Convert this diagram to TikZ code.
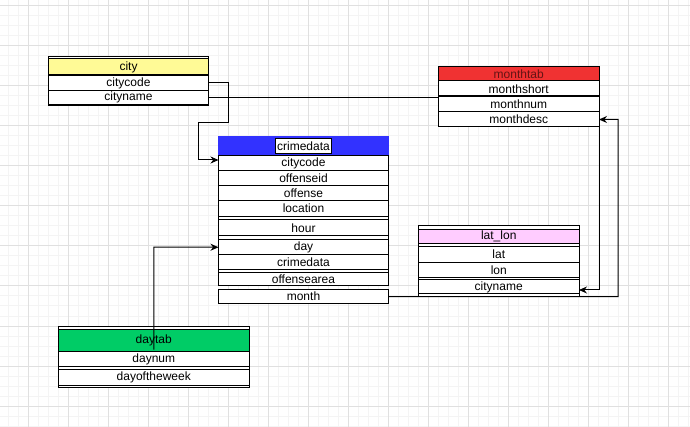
\documentclass[tikz,border=0pt]{standalone}
\usepackage{fontspec}
\setmainfont{Liberation Sans}
\usetikzlibrary{arrows.meta,calc}
\newcommand\fsz{\fontsize{12}{14}\selectfont}
\definecolor{hyellow}{RGB}{255,250,150}
\definecolor{hred}{RGB}{240,50,50}
\definecolor{hblue}{RGB}{50,50,255}
\definecolor{hpink}{RGB}{255,204,255}
\definecolor{hgreen}{RGB}{0,204,102}
\definecolor{gmaj}{RGB}{224,224,224}
\definecolor{gmin}{RGB}{244,244,244}
\definecolor{mtext}{RGB}{100,20,20}
\begin{document}
\begin{tikzpicture}[x=1pt,y=-1pt,
  fld/.style={draw, line width=1pt, inner sep=0pt, outer sep=0pt, anchor=north west, font=\fsz, fill=white},
  frm/.style={draw, line width=1pt, fill=white},
  conn/.style={line width=1pt, -{Stealth[length=8pt,width=7pt]}},
  plain/.style={line width=1pt}]
\useasboundingbox (0,0) rectangle (690,427);
\fill[white] (0,0) rectangle (690,427);
% grid
\foreach \x in {8,18,...,688} \draw[gmin, line width=1pt] (\x,0) -- (\x,427);
\foreach \y in {6,16,...,426} \draw[gmin, line width=1pt] (0,\y) -- (690,\y);
\foreach \x in {28,68,...,668} \draw[gmaj, line width=1pt] (\x,0) -- (\x,427);
\foreach \y in {6,46,...,406} \draw[gmaj, line width=1pt] (0,\y) -- (690,\y);

% city
\draw[frm] (48.5,56.5) rectangle (208.5,106);
\node[fld, fill=hyellow, minimum width=160pt, minimum height=16pt] (cityhead) at (48.5,59) {city};
\draw[line width=2pt] (cityhead.south west) -- (cityhead.south east);
\node[fld, minimum width=160pt, minimum height=15pt] (citycode) at (48.5,75.5) {citycode};
\node[fld, minimum width=160pt, minimum height=14pt] (cityname) at (48.5,90.5) {cityname};

% monthtab
\draw[frm] (438.5,66.5) rectangle (599,127);
\node[fld, fill=hred, text=mtext, minimum width=160.5pt, minimum height=14.5pt] (monthhead) at (438.5,66.5) {monthtab};
\node[fld, minimum width=160.5pt, minimum height=15.5pt] (monthshort) at (438.5,81) {monthshort};
\draw[line width=2pt] (monthshort.south west) -- (monthshort.south east);
\node[fld, minimum width=160.5pt, minimum height=15pt] (monthnum) at (438.5,97) {monthnum};
\node[fld, minimum width=160.5pt, minimum height=15pt] (monthdesc) at (438.5,112) {monthdesc};

% crimedata
\draw[frm] (218.5,156) rectangle (388.5,286);
\node[fill=hblue, inner sep=0pt, outer sep=0pt, anchor=north west, minimum width=171pt, minimum height=20pt] (crimehead) at (218,136) {};
\node[draw, fill=white, line width=1pt, inner sep=0pt, font=\fsz, minimum width=55.5pt, minimum height=15pt] (crimetitle) at (crimehead.center) {crimedata};
\node[fld, minimum width=170pt, minimum height=15pt] (ccode) at (218.5,156) {citycode};
\node[fld, minimum width=170pt, minimum height=15pt] (offenseid) at (218.5,171) {offenseid};
\node[fld, minimum width=170pt, minimum height=15pt] (offense) at (218.5,186) {offense};
\node[fld, minimum width=170pt, minimum height=15.3pt] (location) at (218.5,201) {location};
\node[fld, minimum width=170pt, minimum height=16pt] (hour) at (218.5,220) {hour};
\node[fld, minimum width=170pt, minimum height=15.5pt] (day) at (218.5,239.5) {day};
\node[fld, minimum width=170pt, minimum height=14.5pt] (cdata) at (218.5,255) {crimedata};
\node[fld, minimum width=170pt, minimum height=13.3pt] (offensearea) at (218.5,272.7) {offensearea};
\node[fld, minimum width=170pt, minimum height=14.7pt] (month) at (218.5,289.3) {month};

% lat_lon
\draw[frm] (418.5,226) rectangle (579,297);
\node[fld, fill=hpink, minimum width=160.5pt, minimum height=14.7pt] (llhead) at (418.5,229.3) {lat\_lon};
\node[fld, minimum width=160.5pt, minimum height=15.6pt] (lat) at (418.5,246.7) {lat};
\node[fld, minimum width=160.5pt, minimum height=15pt] (lon) at (418.5,262.3) {lon};
\node[fld, minimum width=160.5pt, minimum height=14pt] (llcity) at (418.5,280) {cityname};

% daytab
\draw[frm] (58.5,326.7) rectangle (249,387);
\node[fld, fill=hgreen, minimum width=190.5pt, minimum height=22.4pt] (dayhead) at (58.5,329.3) {\raisebox{-3pt}{daytab}};
\node[fld, minimum width=190.5pt, minimum height=15pt] (daynum) at (58.5,351.7) {daynum};
\node[fld, minimum width=190.5pt, minimum height=15.7pt] (dayweek) at (58.5,369.3) {dayoftheweek};

% connectors
\draw[conn] (citycode.east) -- (228,83) -- (228,123) -- (198,123) -- (198,160) -- ($(ccode.west)+(0,-3.5)$);
\draw[plain] (cityname.east) -- (cityname.east -| monthnum.west);
\draw[conn] (month.east) -- (618,296.6) -- (618,119.5) -- (monthdesc.east);
\draw[conn] (monthdesc.south east) -- (599,290) -- ($(llcity.east)+(0,3)$);
\draw[conn] ($(dayhead.south)+(0,-2)$) -- (153.75,247.2) -- (day.west);
\end{tikzpicture}
\end{document}
